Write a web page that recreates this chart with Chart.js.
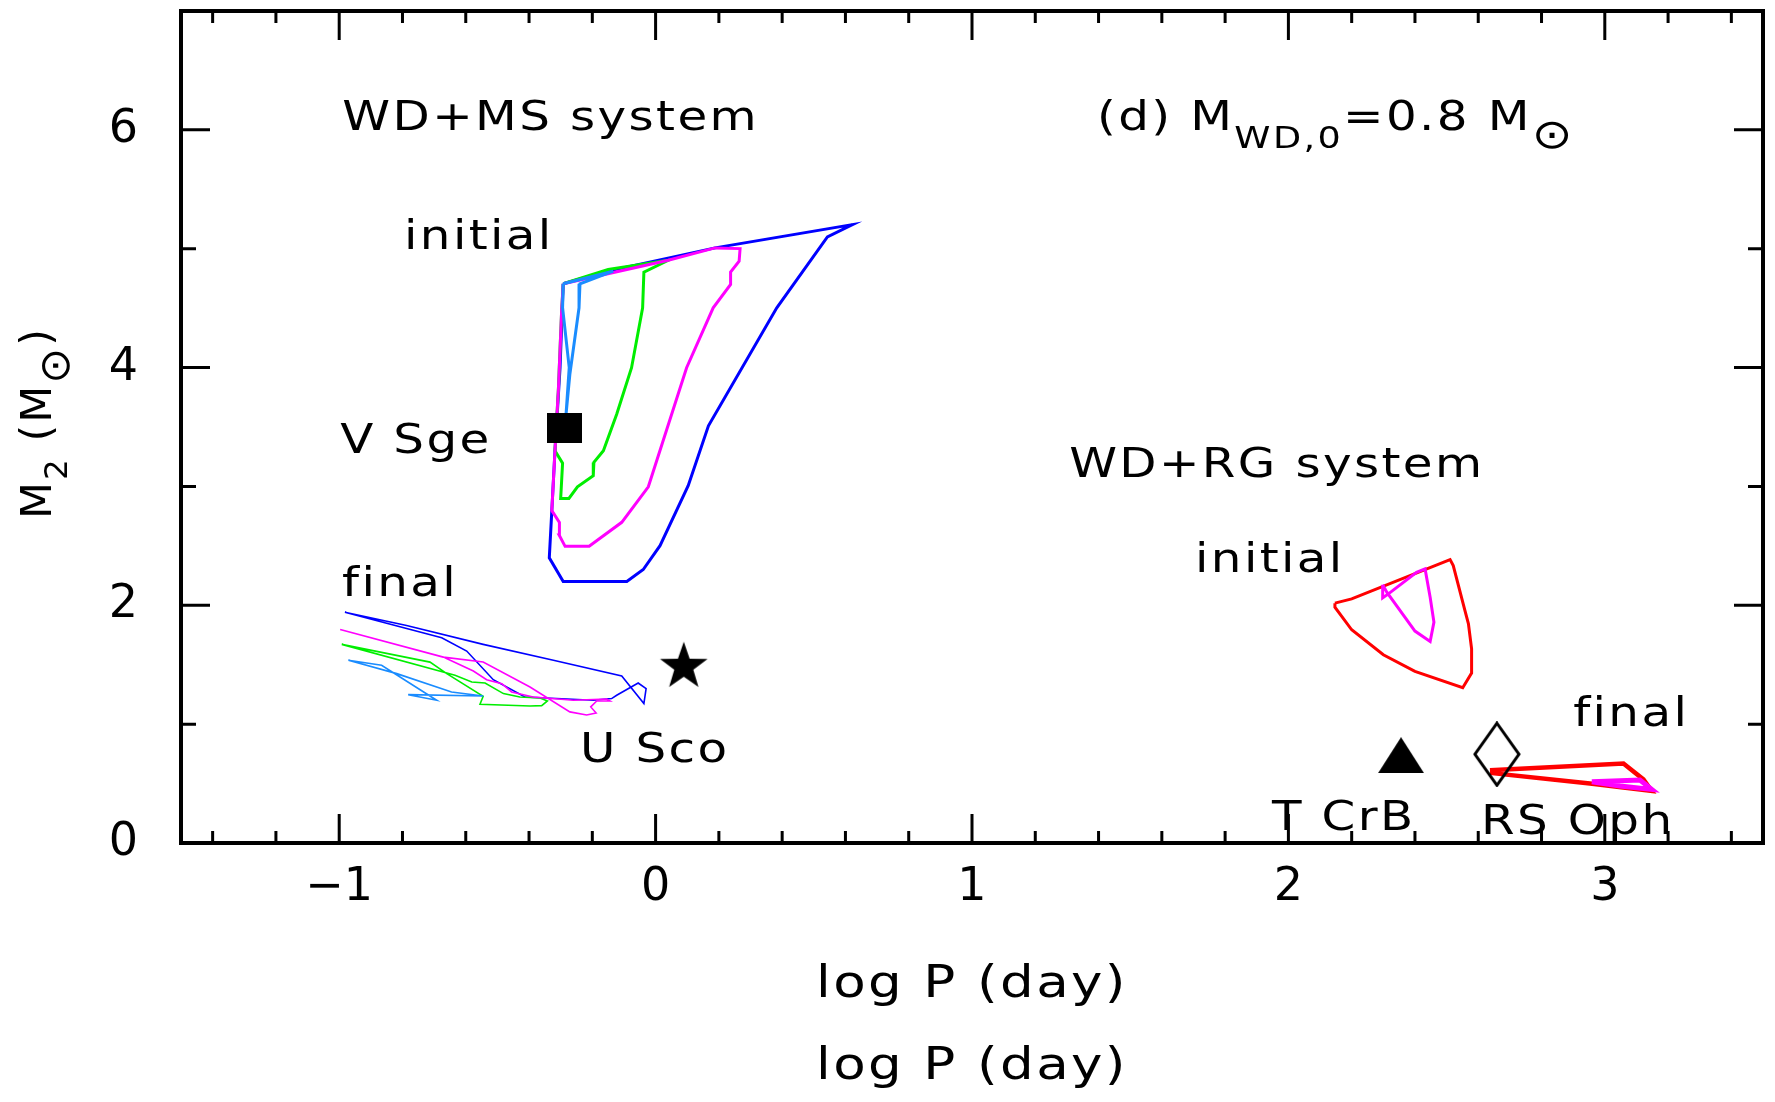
<!DOCTYPE html>
<html>
<head>
<meta charset="utf-8">
<script src="https://cdn.jsdelivr.net/npm/chart.js@4.4.1/dist/chart.umd.min.js"></script>
<style>
  html, body { margin: 0; padding: 0; background: #fff; }
  #c { display: block; }
</style>
</head>
<body>
<canvas id="c" width="1775" height="1102"></canvas>
<script>
// ---- axis ticks ----
const xTicks = [-1, 0, 1, 2, 3];
const yTicks = [0, 2, 4, 6];

// ---- WD+MS channel: initial contours (log P, M2) ----
const msInitialBlue = [[-0.292,4.705],[-0.165,4.803],[0.188,5.007],[0.622,5.203],[0.543,5.099],[0.383,4.503],[0.167,3.510],[0.103,3.006],[0.014,2.502],[-0.039,2.301],[-0.091,2.200],[-0.292,2.200],[-0.336,2.399],[-0.328,2.796],[-0.318,3.300],[-0.302,3.999],[-0.292,4.705]];
const msInitialLightBlue = [[-0.292,4.705],[-0.134,4.811],[-0.239,4.705],[-0.242,4.503],[-0.271,3.943],[-0.283,3.608],[-0.273,3.999],[-0.294,4.503],[-0.292,4.705]];
const msInitialGreen = [[-0.292,4.705],[-0.150,4.825],[0.040,4.903],[-0.037,4.803],[-0.041,4.503],[-0.076,3.999],[-0.123,3.608],[-0.165,3.300],[-0.195,3.202],[-0.197,3.090],[-0.247,2.997],[-0.274,2.899],[-0.300,2.899],[-0.294,3.196],[-0.318,3.300],[-0.307,3.832],[-0.297,4.475],[-0.292,4.705]];
const msInitialMagenta = [[-0.292,4.705],[0.040,4.903],[0.188,5.007],[0.267,5.001],[0.264,4.895],[0.237,4.803],[0.237,4.699],[0.182,4.503],[0.098,3.999],[-0.023,2.997],[-0.107,2.698],[-0.210,2.496],[-0.286,2.496],[-0.305,2.592],[-0.304,2.698],[-0.328,2.796],[-0.318,3.300],[-0.307,3.832],[-0.297,4.475],[-0.292,4.705]];

// ---- WD+MS channel: final states ----
const msFinalBlue = [[-0.982,1.942],[-0.676,1.727],[-0.597,1.615],[-0.513,1.374],[-0.413,1.229],[-0.197,1.201],[-0.139,1.215],[-0.123,1.243],[-0.055,1.346],[-0.030,1.299],[-0.037,1.173],[-0.107,1.405],[-0.323,1.537],[-0.545,1.671],[-0.787,1.830],[-0.982,1.942]];
const msFinalMagenta = [[-0.997,1.797],[-0.671,1.564],[-0.576,1.447],[-0.534,1.374],[-0.486,1.341],[-0.455,1.271],[-0.387,1.229],[-0.260,1.201],[-0.155,1.212],[-0.144,1.195],[-0.186,1.195],[-0.205,1.145],[-0.188,1.094],[-0.218,1.077],[-0.271,1.103],[-0.397,1.312],[-0.545,1.523],[-0.671,1.564]];
const msFinalGreen = [[-0.992,1.671],[-0.713,1.522],[-0.660,1.425],[-0.545,1.234],[-0.555,1.167],[-0.397,1.153],[-0.360,1.156],[-0.342,1.195],[-0.365,1.220],[-0.429,1.229],[-0.481,1.257],[-0.539,1.346],[-0.581,1.355],[-0.634,1.411],[-0.992,1.671]];
const msFinalLightBlue = [[-0.971,1.537],[-0.866,1.495],[-0.692,1.201],[-0.782,1.248],[-0.545,1.237],[-0.645,1.271],[-0.818,1.425],[-0.971,1.537]];

// ---- WD+RG channel ----
const rgInitialRed = [[2.147,2.018],[2.200,2.054],[2.511,2.385],[2.521,2.334],[2.558,1.956],[2.569,1.844],[2.579,1.634],[2.579,1.430],[2.551,1.307],[2.400,1.444],[2.300,1.584],[2.200,1.794],[2.147,1.984],[2.147,2.018]];
const rgInitialMagenta = [[2.298,2.172],[2.298,2.063],[2.316,2.096],[2.405,2.278],[2.432,2.306],[2.448,2.068],[2.460,1.858],[2.448,1.696],[2.400,1.783],[2.311,2.110],[2.298,2.172]];
const rgFinalRed = [[2.637,0.613],[3.059,0.669],[3.122,0.535],[3.148,0.439],[2.953,0.501],[2.637,0.590]];
const rgFinalMagenta = [[2.959,0.515],[3.111,0.529],[3.148,0.451],[3.048,0.479],[2.959,0.515]];

// ---- observed recurrent novae ----
const vSge = [[-0.289, 3.495]];
const uSco = [[0.089, 1.50]];
const tCrB = [[2.356, 0.739]];
const rsOph = [[2.659, 0.747]];

// ---------------------------------------------------------------
const FONT = 'DejaVu Sans';
const STRETCH = 1.18;
const SPACING = 2;

function pts(arr) { return arr.map(p => ({ x: p[0], y: p[1] })); }

function markerCanvas(w, h, draw) {
  const c = document.createElement('canvas');
  c.width = w; c.height = h;
  const g = c.getContext('2d');
  draw(g, w, h);
  return c;
}
const squareMark = markerCanvas(35, 30, (g, w, h) => { g.fillStyle = '#000'; g.fillRect(0, 0, w, h); });
const starMark = markerCanvas(50, 48, (g, w, h) => {
  const R = 25, r = 10, cx = w / 2, cy = 26;
  g.beginPath();
  for (let i = 0; i < 10; i++) {
    const a = -Math.PI / 2 + i * Math.PI / 5;
    const rr = i % 2 ? r : R;
    g.lineTo(cx + rr * Math.cos(a), cy + rr * Math.sin(a));
  }
  g.closePath(); g.fillStyle = '#000'; g.fill();
});
const triMark = markerCanvas(46, 36, (g, w, h) => {
  g.beginPath(); g.moveTo(w / 2, 0); g.lineTo(w, h); g.lineTo(0, h); g.closePath();
  g.fillStyle = '#000'; g.fill();
});
const diamondMark = markerCanvas(48, 66, (g, w, h) => {
  g.beginPath(); g.moveTo(w / 2, 2); g.lineTo(w - 2, h / 2); g.lineTo(w / 2, h - 2); g.lineTo(2, h / 2); g.closePath();
  g.strokeStyle = '#000'; g.lineWidth = 3; g.stroke();
});

function curve(data, color, width) {
  return { data: pts(data), showLine: true, borderColor: color, borderWidth: width,
           pointRadius: 0, pointHoverRadius: 0, fill: false, tension: 0 };
}
function marker(data, img) {
  return { data: pts(data), showLine: false, pointStyle: img, pointRadius: 10,
           pointHoverRadius: 10, backgroundColor: '#000', borderColor: '#000' };
}

const BLUE = '#0000ff', LBLUE = '#1a8cff', GREEN = '#00ee00', MAGENTA = '#ff00ff', RED = '#ff0000';

const datasets = [
  marker(vSge, squareMark),
  marker(uSco, starMark),
  marker(tCrB, triMark),
  marker(rsOph, diamondMark),
  curve(msInitialLightBlue, LBLUE, 3),
  curve(msInitialMagenta, MAGENTA, 3),
  curve(msInitialGreen, GREEN, 3),
  curve(msInitialBlue, BLUE, 3),
  curve(msFinalLightBlue, LBLUE, 1.6),
  curve(msFinalMagenta, MAGENTA, 1.6),
  curve(msFinalGreen, GREEN, 1.6),
  curve(msFinalBlue, BLUE, 1.6),
  curve(rgInitialMagenta, MAGENTA, 3),
  curve(rgInitialRed, RED, 3),
  curve(rgFinalMagenta, MAGENTA, 5),
  curve(rgFinalRed, RED, 4.5)
];

// labels placed in data coordinates (left edge, baseline)
const SUN = { t: '\u2299', sub: true, big: true };
const notes = [
  { x: -0.99, y: 6.0, segs: [{ t: 'WD+MS system' }] },
  { x: 1.395, y: 6.0, segs: [{ t: '(d) M' }, { t: 'WD,0', sub: true }, { t: '=0.8 M' }, SUN] },
  { x: -0.795, y: 5.0, segs: [{ t: 'initial' }] },
  { x: -0.997, y: 3.285, segs: [{ t: 'V Sge' }] },
  { x: -0.991, y: 2.08, segs: [{ t: 'final' }] },
  { x: -0.239, y: 0.682, segs: [{ t: 'U Sco' }] },
  { x: 1.307, y: 3.076, segs: [{ t: 'WD+RG system' }] },
  { x: 1.705, y: 2.278, segs: [{ t: 'initial' }] },
  { x: 2.900, y: 0.986, segs: [{ t: 'final' }] },
  { x: 1.948, y: 0.111, segs: [{ t: 'T CrB' }] },
  { x: 2.609, y: 0.073, segs: [{ t: 'RS Oph' }] }
];

function segSize(size, s) { return s.big ? size : (s.sub ? Math.round(size * 0.76) : size); }
function segFont(size, s) { return `${segSize(size, s)}px "${FONT}"`; }
function richWidth(ctx, segs, size) {
  let w = 0;
  for (const s of segs) { ctx.font = segFont(size, s); w += ctx.measureText(s.t).width; }
  return w;
}
function drawRich(ctx, segs, x, y, size, opt = {}) {
  ctx.save();
  ctx.translate(x, y);
  if (opt.rotate) ctx.rotate(opt.rotate);
  ctx.scale(opt.stretch || STRETCH, 1);
  ctx.letterSpacing = SPACING + 'px';
  ctx.textBaseline = opt.baseline || 'alphabetic';
  ctx.textAlign = 'left';
  ctx.fillStyle = '#000';
  let cx = opt.center ? -richWidth(ctx, segs, size) / 2 : 0;
  for (const s of segs) {
    ctx.font = segFont(size, s);
    ctx.fillText(s.t, cx, s.sub ? size * 0.44 : 0);
    cx += ctx.measureText(s.t).width;
  }
  ctx.restore();
}

// box frame with inward major/minor ticks on all four sides
const framePlugin = {
  id: 'frame',
  afterDatasetsDraw(chart) {
    const { ctx, chartArea: a, scales: { x, y } } = chart;
    ctx.save();
    ctx.strokeStyle = '#000';
    ctx.lineWidth = 3;
    ctx.beginPath();
    for (let i = Math.ceil(x.min / 0.2 - 1e-9); i * 0.2 <= x.max + 1e-9; i++) {
      const v = i * 0.2;
      const major = Math.abs(v - Math.round(v)) < 1e-6;
      const len = major ? 29 : 12;
      const px = x.getPixelForValue(v);
      ctx.moveTo(px, a.bottom); ctx.lineTo(px, a.bottom - len);
      ctx.moveTo(px, a.top); ctx.lineTo(px, a.top + len);
    }
    for (let v = Math.ceil(y.min) + 1; v < y.max; v++) {
      const len = v % 2 === 0 ? 29 : 15;
      const py = y.getPixelForValue(v);
      ctx.moveTo(a.left, py); ctx.lineTo(a.left + len, py);
      ctx.moveTo(a.right, py); ctx.lineTo(a.right - len, py);
    }
    ctx.stroke();
    ctx.lineWidth = 4;
    ctx.strokeRect(a.left, a.top, a.right - a.left, a.bottom - a.top);
    ctx.restore();
  }
};

const textPlugin = {
  id: 'notes',
  afterDraw(chart) {
    const { ctx, chartArea: a, scales: { x, y } } = chart;
    for (const n of notes) {
      drawRich(ctx, n.segs, x.getPixelForValue(n.x), y.getPixelForValue(n.y), 41);
    }
    // axis titles
    const cx = (a.left + a.right) / 2;
    drawRich(ctx, [{ t: 'log P (day)' }], cx, 985, 45, { center: true, baseline: 'middle' });
    drawRich(ctx, [{ t: 'log P (day)' }], cx, 1067, 45, { center: true, baseline: 'middle' });
    drawRich(ctx, [{ t: 'M' }, { t: '2', sub: true }, { t: ' (M' }, SUN, { t: ')' }],
             40, (a.top + a.bottom) / 2 - 4, 42, { center: true, baseline: 'middle', rotate: -Math.PI / 2, stretch: 1.02 });
  }
};

const tickFont = { family: FONT, size: 46 };
new Chart(document.getElementById('c'), {
  type: 'scatter',
  data: { datasets },
  options: {
    responsive: false,
    animation: false,
    devicePixelRatio: 1,
    layout: { padding: { top: 9, right: 12, left: 0, bottom: 0 } },
    plugins: { legend: { display: false }, tooltip: { enabled: false } },
    events: [],
    scales: {
      x: {
        type: 'linear', min: -1.5, max: 3.5,
        afterBuildTicks: s => { s.ticks = xTicks.map(v => ({ value: v })); },
        afterFit: s => { s.height = 259; s.paddingLeft = 0; s.paddingRight = 0; },
        grid: { display: false, drawTicks: false },
        border: { display: false },
        ticks: { font: tickFont, color: '#000', padding: 17, maxRotation: 0, autoSkip: false,
                 callback: v => String(v).replace('-', '\u2212') }
      },
      y: {
        type: 'linear', min: 0, max: 7,
        afterBuildTicks: s => { s.ticks = yTicks.map(v => ({ value: v })); },
        afterFit: s => { s.width = 181; s.paddingTop = 0; s.paddingBottom = 0; },
        grid: { display: false, drawTicks: false },
        border: { display: false },
        ticks: { font: tickFont, color: '#000', padding: 43, autoSkip: false }
      }
    }
  },
  plugins: [framePlugin, textPlugin]
});
</script>
</body>
</html>
